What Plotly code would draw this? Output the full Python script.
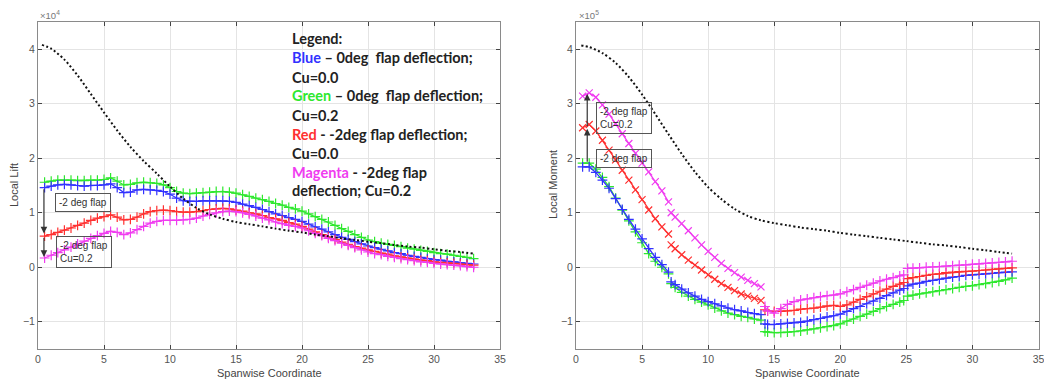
import plotly.graph_objects as go

# ---------------- data ----------------
# Left panel: Local Lift (x1e4)
SPAN_L = [0.5, 1.0, 1.5, 2.0, 2.5, 3.0, 3.5, 4.0, 4.5, 5.0, 5.5, 6.0, 6.5, 7.0, 7.5, 8.0,
          8.5, 9.0, 9.5, 10.0, 10.5, 11.0, 11.5, 12.0, 12.5, 13.0, 13.5, 14.0, 14.5, 15.0,
          15.5, 16.0, 16.5, 17.0, 17.5, 18.0, 18.5, 19.0, 19.5, 20.0, 20.5, 21.0, 21.5, 22.0,
          22.5, 23.0, 23.5, 24.0, 24.5, 25.0, 25.5, 26.0, 26.5, 27.0, 27.5, 28.0, 28.5, 29.0,
          29.5, 30.0, 30.5, 31.0, 31.5, 32.0, 32.5, 33.0]
LIFT_BLUE = [1.46, 1.49, 1.51, 1.52, 1.51, 1.50, 1.49, 1.50, 1.50, 1.51, 1.53, 1.46, 1.37, 1.38,
             1.42, 1.43, 1.42, 1.41, 1.39, 1.34, 1.27, 1.22, 1.21, 1.21, 1.22, 1.22, 1.22, 1.22,
             1.21, 1.19, 1.16, 1.13, 1.10, 1.06, 1.02, 0.98, 0.95, 0.91, 0.88, 0.84, 0.79, 0.74,
             0.70, 0.65, 0.60, 0.55, 0.51, 0.47, 0.43, 0.39, 0.36, 0.33, 0.30, 0.27, 0.25, 0.22,
             0.20, 0.18, 0.16, 0.14, 0.13, 0.11, 0.10, 0.08, 0.07, 0.06]
LIFT_GREEN = [1.56, 1.58, 1.60, 1.60, 1.60, 1.59, 1.59, 1.60, 1.60, 1.61, 1.64, 1.58, 1.51, 1.52,
              1.55, 1.56, 1.55, 1.54, 1.51, 1.46, 1.39, 1.36, 1.35, 1.36, 1.37, 1.38, 1.39, 1.39,
              1.38, 1.36, 1.33, 1.30, 1.27, 1.24, 1.21, 1.17, 1.14, 1.10, 1.07, 1.03, 0.98, 0.93,
              0.88, 0.83, 0.77, 0.71, 0.66, 0.60, 0.55, 0.50, 0.47, 0.44, 0.42, 0.40, 0.38, 0.35,
              0.33, 0.31, 0.29, 0.27, 0.25, 0.24, 0.22, 0.20, 0.18, 0.16]
LIFT_RED = [0.57, 0.60, 0.64, 0.68, 0.72, 0.77, 0.81, 0.86, 0.90, 0.93, 0.96, 0.92, 0.87, 0.88,
            0.92, 0.98, 1.02, 1.04, 1.05, 1.04, 1.02, 1.01, 1.01, 1.02, 1.04, 1.06, 1.07, 1.08,
            1.07, 1.05, 1.03, 1.00, 0.98, 0.95, 0.91, 0.89, 0.86, 0.82, 0.79, 0.75, 0.70, 0.65,
            0.60, 0.56, 0.51, 0.46, 0.42, 0.38, 0.35, 0.32, 0.29, 0.26, 0.24, 0.21, 0.19, 0.17,
            0.15, 0.13, 0.12, 0.10, 0.09, 0.08, 0.07, 0.06, 0.05, 0.04]
LIFT_MAGENTA = [0.17, 0.22, 0.27, 0.32, 0.37, 0.43, 0.48, 0.53, 0.58, 0.62, 0.66, 0.64, 0.60, 0.63,
                0.69, 0.75, 0.81, 0.84, 0.86, 0.86, 0.86, 0.87, 0.88, 0.90, 0.94, 0.97, 1.00, 1.02,
                1.03, 1.02, 1.00, 0.97, 0.94, 0.90, 0.87, 0.83, 0.80, 0.77, 0.75, 0.72, 0.67, 0.62,
                0.58, 0.53, 0.49, 0.44, 0.40, 0.36, 0.32, 0.28, 0.25, 0.23, 0.20, 0.18, 0.16, 0.14,
                0.12, 0.10, 0.09, 0.07, 0.06, 0.05, 0.04, 0.03, 0.01, 0.00]
BASE_X_L = [0.3, 1, 2, 3, 4, 5, 6, 7, 8, 9, 10, 11, 12, 13, 14, 15, 16, 17, 18, 19, 20, 21, 22,
            23, 24, 25, 26, 27, 28, 29, 30, 31, 32, 33]
LIFT_BLACK = [4.08, 4.01, 3.81, 3.52, 3.18, 2.84, 2.51, 2.21, 1.95, 1.72, 1.48, 1.26, 1.09, 0.97,
              0.89, 0.83, 0.79, 0.75, 0.71, 0.67, 0.64, 0.60, 0.57, 0.53, 0.50, 0.47, 0.44, 0.41,
              0.38, 0.36, 0.33, 0.30, 0.28, 0.25]

# Right panel: Local Moment (x1e5), four span segments
SPAN_R = [
    [0.5, 1.0, 1.5, 2.0, 2.5, 3.0, 3.5, 4.0, 4.5, 5.0, 5.5, 6.0, 6.5, 7.0],
    [7.2, 7.5, 8.0, 8.5, 9.0, 9.5, 10.0, 10.5, 11.0, 11.5, 12.0, 12.5, 13.0, 13.5, 14.0],
    [14.3, 14.5, 15.0, 15.5, 16.0, 16.5, 17.0, 17.5, 18.0, 18.5, 19.0, 19.5, 20.0, 20.5, 21.0,
     21.5, 22.0, 22.5, 23.0, 23.5, 24.0, 24.5, 24.8],
    [25.1, 25.5, 26.0, 26.5, 27.0, 27.5, 28.0, 28.5, 29.0, 29.5, 30.0, 30.5, 31.0, 31.5, 32.0,
     32.5, 33.0],
]
MOM_BLUE = [
    [1.84, 1.84, 1.74, 1.60, 1.45, 1.26, 1.06, 0.88, 0.70, 0.52, 0.34, 0.18, 0.05, -0.09],
    [-0.27, -0.32, -0.40, -0.47, -0.53, -0.59, -0.63, -0.67, -0.71, -0.75, -0.78, -0.80, -0.83,
     -0.85, -0.87],
    [-1.04, -1.05, -1.05, -1.04, -1.03, -1.02, -1.01, -0.99, -0.96, -0.94, -0.91, -0.89, -0.86,
     -0.81, -0.76, -0.72, -0.67, -0.62, -0.57, -0.52, -0.47, -0.42, -0.39],
    [-0.34, -0.31, -0.29, -0.26, -0.24, -0.22, -0.20, -0.18, -0.17, -0.15, -0.14, -0.13, -0.12,
     -0.11, -0.10, -0.09, -0.085],
]
MOM_GREEN = [
    [1.91, 1.91, 1.80, 1.65, 1.48, 1.27, 1.05, 0.85, 0.65, 0.45, 0.25, 0.11, 0.00, -0.12],
    [-0.30, -0.37, -0.46, -0.53, -0.59, -0.64, -0.69, -0.75, -0.80, -0.84, -0.87, -0.90, -0.92,
     -0.95, -0.97],
    [-1.18, -1.19, -1.20, -1.20, -1.19, -1.18, -1.17, -1.15, -1.13, -1.11, -1.09, -1.07, -1.04,
     -0.99, -0.95, -0.90, -0.86, -0.81, -0.76, -0.72, -0.68, -0.64, -0.61],
    [-0.53, -0.51, -0.49, -0.47, -0.45, -0.43, -0.41, -0.39, -0.37, -0.35, -0.34, -0.32, -0.30,
     -0.28, -0.26, -0.23, -0.20],
]
MOM_RED = [
    [2.56, 2.62, 2.50, 2.33, 2.15, 1.97, 1.78, 1.60, 1.42, 1.24, 1.05, 0.89, 0.74, 0.61],
    [0.41, 0.34, 0.23, 0.13, 0.04, -0.05, -0.14, -0.22, -0.30, -0.37, -0.43, -0.49, -0.53,
     -0.57, -0.61],
    [-0.78, -0.80, -0.81, -0.81, -0.80, -0.79, -0.77, -0.76, -0.75, -0.73, -0.71, -0.70, -0.72,
     -0.69, -0.64, -0.59, -0.54, -0.49, -0.44, -0.40, -0.35, -0.31, -0.28],
    [-0.21, -0.19, -0.17, -0.15, -0.13, -0.12, -0.10, -0.09, -0.08, -0.075, -0.07, -0.06, -0.05,
     -0.04, -0.03, -0.02, -0.01],
]
MOM_MAGENTA = [
    [3.14, 3.20, 3.12, 2.98, 2.81, 2.64, 2.45, 2.27, 2.09, 1.91, 1.75, 1.57, 1.40, 1.20],
    [1.00, 0.92, 0.80, 0.67, 0.54, 0.41, 0.29, 0.18, 0.07, -0.02, -0.10, -0.18, -0.24, -0.30,
     -0.36],
    [-0.72, -0.80, -0.84, -0.76, -0.68, -0.63, -0.60, -0.58, -0.56, -0.54, -0.52, -0.51, -0.49,
     -0.45, -0.41, -0.37, -0.33, -0.29, -0.25, -0.22, -0.19, -0.16, -0.14],
    [-0.02, -0.015, -0.01, 0.00, 0.005, 0.01, 0.02, 0.03, 0.04, 0.045, 0.055, 0.06, 0.07, 0.08,
     0.09, 0.10, 0.11],
]
BASE_X_R = [0.4, 1, 2, 3, 4, 5, 6, 7, 8, 9, 10, 11, 12, 13, 14, 15, 16, 17, 18, 19, 20, 21, 22,
            23, 24, 25, 26, 27, 28, 29, 30, 31, 32, 33]
MOM_BLACK = [4.07, 4.04, 3.93, 3.75, 3.49, 3.17, 2.81, 2.44, 2.08, 1.75, 1.47, 1.25, 1.07, 0.94,
             0.86, 0.81, 0.77, 0.73, 0.70, 0.67, 0.63, 0.60, 0.57, 0.54, 0.51, 0.48, 0.45, 0.42,
             0.40, 0.37, 0.34, 0.31, 0.28, 0.25]

X_TICKS = [0, 5, 10, 15, 20, 25, 30, 35]
Y_TICKS = [-1, 0, 1, 2, 3, 4]

COL = {"blue": "#3232ff", "green": "#2ee82e", "red": "#ff3030", "magenta": "#f03cf0"}

# ---------------- figure ----------------
W, H = 1044, 383
def PX(v): return v / W
def PY(v): return 1 - v / H

fig = go.Figure()

def band(x, y, color, xa, ya, symbols="cross-thin"):
    fig.add_trace(go.Scatter(
        x=x, y=y, mode="lines+markers", xaxis=xa, yaxis=ya, showlegend=False,
        line=dict(color=color, width=1.3),
        marker=dict(symbol=symbols, size=7, line=dict(color=color, width=1.2), color=color),
        connectgaps=False))

def join(segs):
    out = []
    for i, s in enumerate(segs):
        if i:
            out.append(None)
        out.extend(s)
    return out

# left
for series, c in [(LIFT_GREEN, "green"), (LIFT_BLUE, "blue"), (LIFT_RED, "red"), (LIFT_MAGENTA, "magenta")]:
    band(SPAN_L, series, COL[c], "x", "y")
fig.add_trace(go.Scatter(x=BASE_X_L, y=LIFT_BLACK, mode="lines", xaxis="x", yaxis="y", showlegend=False,
                         line=dict(color="#111", width=2, dash="2px,2.4px", shape="spline", smoothing=0.8)))

# right
xr = join(SPAN_R)
sym_rm = join([["x-thin"] * len(SPAN_R[0]), ["x-thin"] * len(SPAN_R[1]),
               ["cross-thin"] * len(SPAN_R[2]), ["cross-thin"] * len(SPAN_R[3])])
sym_rm = [s if s is not None else "cross-thin" for s in sym_rm]
band(xr, join(MOM_GREEN), COL["green"], "x2", "y2")
band(xr, join(MOM_BLUE), COL["blue"], "x2", "y2")
band(xr, join(MOM_RED), COL["red"], "x2", "y2", sym_rm)
band(xr, join(MOM_MAGENTA), COL["magenta"], "x2", "y2", sym_rm)
fig.add_trace(go.Scatter(x=BASE_X_R, y=MOM_BLACK, mode="lines", xaxis="x2", yaxis="y2", showlegend=False,
                         line=dict(color="#111", width=2, dash="2px,2.4px", shape="spline", smoothing=0.8)))

axis_common = dict(showgrid=True, gridcolor="#e4e4e4", gridwidth=1, showline=True, linecolor="#8a8a8a",
                   linewidth=1, mirror="ticks", ticks="inside", ticklen=4, tickcolor="#444",
                   tickfont=dict(family="Liberation Sans, Arial, sans-serif", size=10.5, color="#555"),
                   zeroline=False, automargin=False, fixedrange=True, ticklabeloverflow="allow")
fig.update_layout(
    width=W, height=H, margin=dict(l=0, r=0, t=0, b=0),
    paper_bgcolor="white", plot_bgcolor="white",
    xaxis=dict(domain=[PX(38), PX(500)], range=[0, 35], tickvals=X_TICKS, anchor="y", **axis_common),
    yaxis=dict(domain=[PY(349), PY(22)], range=[-1.5, 4.5], tickvals=Y_TICKS, anchor="x", **axis_common),
    xaxis2=dict(domain=[PX(576), PX(1038.5)], range=[0, 35], tickvals=X_TICKS, anchor="y2", **axis_common),
    yaxis2=dict(domain=[PY(349), PY(22)], range=[-1.5, 4.5], tickvals=Y_TICKS, anchor="x2", **axis_common),
)

ann = []
lab_font = dict(family="Liberation Sans, Arial, sans-serif", size=11, color="#444")
# axis titles
ann.append(dict(text="Spanwise Coordinate", x=PX(269), y=PY(373), xref="paper", yref="paper",
                showarrow=False, font=lab_font, xanchor="center", yanchor="middle"))
ann.append(dict(text="Spanwise Coordinate", x=PX(807), y=PY(373), xref="paper", yref="paper",
                showarrow=False, font=lab_font, xanchor="center", yanchor="middle"))
ann.append(dict(text="Local Lift", x=PX(14), y=PY(185), xref="paper", yref="paper", textangle=-90,
                showarrow=False, font=lab_font, xanchor="center", yanchor="middle"))
ann.append(dict(text="Local Moment", x=PX(553), y=PY(185), xref="paper", yref="paper", textangle=-90,
                showarrow=False, font=lab_font, xanchor="center", yanchor="middle"))
# exponent labels
exp_font = dict(family="Liberation Sans, Arial, sans-serif", size=9.5, color="#777")
ann.append(dict(text="×10<sup>4</sup>", x=PX(38), y=PY(15), xref="paper", yref="paper",
                showarrow=False, font=exp_font, xanchor="left", yanchor="middle"))
ann.append(dict(text="×10<sup>5</sup>", x=PX(577), y=PY(15), xref="paper", yref="paper",
                showarrow=False, font=exp_font, xanchor="left", yanchor="middle"))

# legend text
lg_font = dict(family="Lato, Carlito, sans-serif", size=14.5, color="#222")
def c(t, k):
    return f"<span style='color:{COL[k]}'>{t}</span>"
legend_lines = [
    "Legend:",
    c("Blue", "blue") + " – 0deg\u00a0 flap deflection;",
    "Cu=0.0",
    c("Green", "green") + " – 0deg\u00a0 flap deflection;",
    "Cu=0.2",
    c("Red", "red") + " - -2deg flap deflection;",
    "Cu=0.0",
    c("Magenta", "magenta") + " - -2deg flap",
    "deflection; Cu=0.2",
]
legend_y = [39, 58, 77, 96, 115, 134, 153, 172, 190]
for t, yy in zip(legend_lines, legend_y):
    ann.append(dict(text="<b>" + t + "</b>", x=PX(290), y=PY(yy), xref="paper", yref="paper",
                    showarrow=False, font=lg_font, xanchor="left", yanchor="middle"))

# flap boxes
box_font = dict(family="Liberation Sans, Arial, sans-serif", size=10, color="#333")
def box(text, cx, cy):
    ann.append(dict(text=text, x=PX(cx), y=PY(cy), xref="paper", yref="paper", showarrow=False,
                    font=box_font, align="left", bordercolor="#555", borderwidth=1, borderpad=3,
                    bgcolor="rgba(0,0,0,0)", xanchor="center", yanchor="middle"))
box("-2 deg flap", 83, 202)
box("-2 deg flap<br>Cu=0.2", 84, 252)
box("-2 deg flap", 624, 158)
box("-2 deg flap<br>Cu=0.2", 624, 118)

# arrows (tail -> tip in data units)
def arrow(xa, ya, x, y0, y1):
    ann.append(dict(text="", x=x, y=y1, ax=x, ay=y0, xref=xa, yref=ya, axref=xa, ayref=ya,
                    showarrow=True, arrowhead=2, arrowsize=1.1, arrowwidth=1.2, arrowcolor="#333"))
arrow("x", "y", 0.45, LIFT_BLUE[0], LIFT_RED[0] + 0.05)
arrow("x", "y", 0.45, LIFT_RED[0], LIFT_MAGENTA[0] + 0.02)
arrow("x2", "y2", 0.85, MOM_GREEN[0][0], MOM_RED[0][0] - 0.02)
arrow("x2", "y2", 0.85, MOM_RED[0][0], MOM_MAGENTA[0][0] + 0.04)

fig.update_layout(annotations=ann)
fig.write_html("out.html", config={"displayModeBar": False, "staticPlot": True},
               post_script="document.body.style.margin='0';document.body.style.padding='0';")
